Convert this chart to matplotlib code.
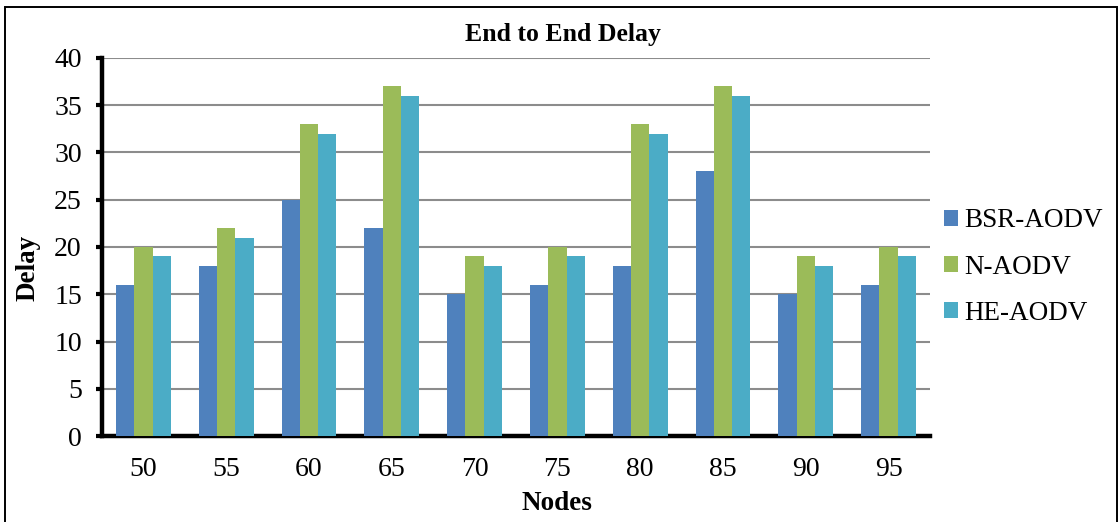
import numpy as np
import matplotlib.pyplot as plt
from matplotlib.patches import Rectangle

plt.rcParams['font.family'] = ['Liberation Serif', 'DejaVu Serif']

nodes = ['50', '55', '60', '65', '70', '75', '80', '85', '90', '95']
bsr_aodv = [16, 18, 25, 22, 15, 16, 18, 28, 15, 16]
n_aodv = [20, 22, 33, 37, 19, 20, 33, 37, 19, 20]
he_aodv = [19, 21, 32, 36, 18, 19, 32, 36, 18, 19]

series = [('BSR-AODV', bsr_aodv, '#4F81BD'),
          ('N-AODV', n_aodv, '#9BBB59'),
          ('HE-AODV', he_aodv, '#4BACC6')]

W, H = 1119, 522
fig = plt.figure(figsize=(W / 100, H / 100), dpi=100)
ax = fig.add_axes([102 / W, (H - 436) / H, 828 / W, 378 / H])

x = np.arange(len(nodes))
w = 0.22
for i, (name, vals, col) in enumerate(series):
    ax.bar(x + (i - 1) * w, vals, w, color=col, label=name, zorder=3)

ax.set_xlim(-0.5, len(nodes) - 0.5)
ax.set_ylim(0, 40)
ax.set_yticks(range(0, 41, 5))
ax.set_xticks(x)
ax.set_xticklabels(nodes)
ax.yaxis.grid(True, color='#8c8c8c', linewidth=1.5, zorder=0)
ax.set_axisbelow(True)

for s in ['top', 'right']:
    ax.spines[s].set_visible(False)
for s in ['left', 'bottom']:
    ax.spines[s].set_linewidth(3.2)
    ax.spines[s].set_color('black')

ax.tick_params(axis='y', direction='out', length=4.5, width=3, labelsize=20, pad=10)
ax.tick_params(axis='x', length=0, labelsize=20, pad=15)

# title and axis titles are placed relative to the whole figure
fig.text(563 / W, 1 - 34 / H, 'End to End Delay', fontsize=18.5,
         fontweight='bold', ha='center', va='center')
fig.text(557 / W, 1 - 504 / H, 'Nodes', fontsize=19.5,
         fontweight='bold', ha='center', va='center')
fig.text(28 / W, 1 - 268 / H, 'Delay', fontsize=19.5, rotation=90,
         fontweight='bold', ha='center', va='center')

ax.legend(loc='center left', bbox_to_anchor=(0.988, 0.447), frameon=False,
          fontsize=19.5, handlelength=0.5, handleheight=0.5,
          handletextpad=0.25, labelspacing=0.78)

# outer frame around the whole chart
fig.patches.append(Rectangle((5 / W, -0.05), 1112 / W, 1.05 - 7 / H,
                             transform=fig.transFigure, fill=False,
                             edgecolor='black', linewidth=1.4, clip_on=False))

fig.savefig('out.png', dpi=100)
